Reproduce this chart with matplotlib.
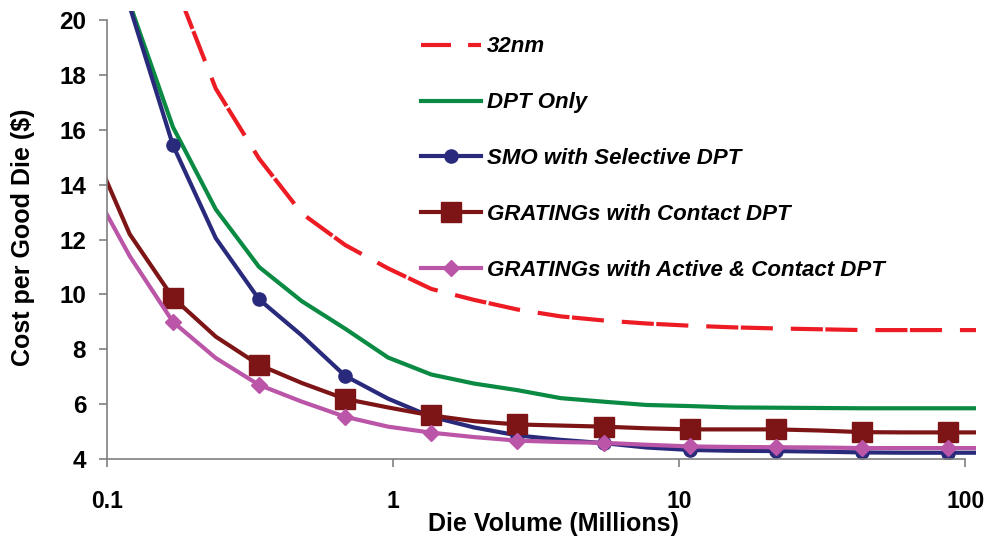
import numpy as np
import matplotlib
matplotlib.use("Agg")
import matplotlib.pyplot as plt
from matplotlib.lines import Line2D

# Die volume (millions), shared by all series; markers on every other point
volume = [0.085, 0.12, 0.17, 0.24, 0.34, 0.48, 0.68, 0.96, 1.36, 1.92, 2.72,
          3.85, 5.44, 7.69, 10.9, 15.4, 21.8, 30.8, 43.5, 61.6, 87.0, 123.0]

cost_32nm = [30.0, 25.0, 21.5, 17.5, 14.95, 12.95, 11.8, 10.95, 10.2, 9.8, 9.45,
             9.2, 9.05, 8.94, 8.86, 8.8, 8.76, 8.73, 8.7, 8.7, 8.7, 8.7]
cost_dpt = [27.0, 20.6, 16.1, 13.1, 11.0, 9.75, 8.75, 7.7, 7.08, 6.75, 6.51,
            6.22, 6.09, 5.97, 5.93, 5.88, 5.87, 5.86, 5.85, 5.85, 5.85, 5.85]
cost_smo = [27.0, 20.5, 15.44, 12.05, 9.82, 8.5, 7.03, 6.2, 5.54, 5.15, 4.86,
            4.7, 4.58, 4.42, 4.33, 4.3, 4.29, 4.27, 4.24, 4.23, 4.23, 4.23]
cost_grat_contact = [15.8, 12.2, 9.88, 8.46, 7.43, 6.77, 6.19, 5.88, 5.59, 5.38,
                     5.26, 5.22, 5.18, 5.12, 5.08, 5.08, 5.08, 5.04, 4.98, 4.97, 4.97, 4.97]
cost_grat_active = [14.25, 11.4, 9.0, 7.68, 6.7, 6.09, 5.54, 5.18, 4.96, 4.8,
                    4.67, 4.62, 4.59, 4.52, 4.46, 4.44, 4.43, 4.42, 4.4, 4.4, 4.4, 4.4]

labels = ["32nm", "DPT Only", "SMO with Selective DPT",
          "GRATINGs with Contact DPT", "GRATINGs with Active & Contact DPT"]

RED = "#ed1c24"
GREEN = "#0a8a43"
NAVY = "#2a2a7c"
BROWN = "#7d1517"
PINK = "#bb55a8"

plt.rcParams["font.family"] = ["Liberation Sans", "DejaVu Sans"]

fig = plt.figure(figsize=(9.88, 5.38), dpi=100)
ax = fig.add_axes([0.1083, 0.1468, 0.8796, 0.8327])

mk = slice(2, None, 2)
lw = 3.0
ax.plot(volume, cost_32nm, color=RED, lw=lw, dashes=(7.7, 0.6, 7.7, 4.3))
ax.plot(volume, cost_dpt, color=GREEN, lw=lw)
ax.plot(volume, cost_smo, color=NAVY, lw=lw, marker="o", ms=9.5, markevery=mk)
ax.plot(volume, cost_grat_contact, color=BROWN, lw=lw, marker="s", ms=14,
        markevery=mk)
ax.plot(volume, cost_grat_active, color=PINK, lw=lw, marker="D", ms=8.5,
        markevery=mk)

# legend proxies (the legend sample of the dashed line uses a plain dash)
handles = [
    Line2D([], [], color=RED, lw=lw, dashes=(7.2, 4.1)),
    Line2D([], [], color=GREEN, lw=lw),
    Line2D([], [], color=NAVY, lw=lw, marker="o", ms=9.5),
    Line2D([], [], color=BROWN, lw=lw, marker="s", ms=14),
    Line2D([], [], color=PINK, lw=lw, marker="D", ms=8.5),
]

ax.set_xscale("log")
ax.set_xlim(0.1, 109)
ax.set_ylim(4, 20.33)
ax.set_xticks([0.1, 1, 10, 100])
ax.set_xticklabels(["0.1", "1", "10", "100"])
ax.xaxis.set_minor_locator(matplotlib.ticker.NullLocator())
ax.set_yticks(np.arange(4, 21, 2))

for s in ["top", "right"]:
    ax.spines[s].set_visible(False)
for s in ["left", "bottom"]:
    ax.spines[s].set_color("#808080")
    ax.spines[s].set_linewidth(1.2)
ax.spines["bottom"].set_bounds(0.1, 100)
ax.spines["left"].set_bounds(4, 20)

ax.tick_params(axis="both", direction="out", length=6, width=1.2, color="#808080")
ax.tick_params(axis="x", pad=16, labelsize=16.5)
ax.tick_params(axis="y", pad=9, labelsize=17.5)
for t in ax.get_xticklabels() + ax.get_yticklabels():
    t.set_fontweight("bold")

ax.set_xlabel("Die Volume (Millions)", fontsize=18, fontweight="bold", va="top")
ax.xaxis.set_label_coords(0.514, -0.118)
ax.set_ylabel("Cost per Good Die ($)", fontsize=18, fontweight="bold")
ax.yaxis.set_label_coords(-0.083, 0.494)

ax.legend(handles, labels, loc="upper left", bbox_to_anchor=(0.3385, 0.988),
          frameon=False, prop={"size": 16, "weight": "bold", "style": "italic"},
          handlelength=2.7, handletextpad=0.27, labelspacing=1.57)

fig.savefig("out.png", dpi=100)
